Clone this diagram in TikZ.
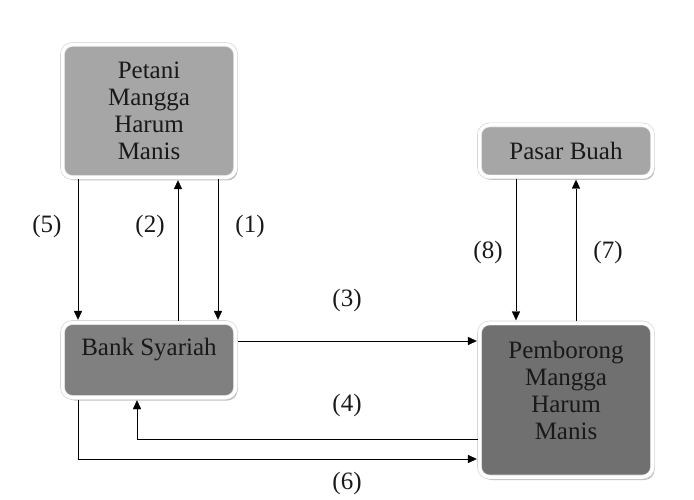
\documentclass[tikz,border=0pt]{standalone}
\usepackage{fontspec}
\setmainfont{Liberation Serif}
\usetikzlibrary{arrows.meta, positioning, shadows}

\begin{document}
\begin{tikzpicture}[x=1pt, y=-1pt]
	\tikzset {->, >={Triangle[length=10pt, width=9pt]}, line width=1pt,
		box/.style={rectangle, rounded corners=10pt, draw=black!18, double=white, double distance=3.5pt, line width=0.6pt, outer sep=2pt, minimum width=173pt, inner sep=2pt, align=center, font=\fontsize{25}{27}\selectfont, text=black!90, drop shadow={shadow xshift=2pt, shadow yshift=-3pt, opacity=0.5}},
		num/.style={font=\fontsize{25}{27}\selectfont, text=black!90} }

	\useasboundingbox (0,0) rectangle (694,500);

	\node[box, fill=black!35, minimum height=133pt] (petani) at (149,111) {Petani\\Mangga\\Harum\\Manis};
	\node[box, fill=black!50, minimum height=75pt] (bank) at (149,360) {Bank Syariah\\\mbox{}};
	\node[box, fill=black!35, minimum height=52pt] (pasar) at (566,151) {Pasar Buah};
	\node[box, fill=black!56, minimum height=154pt] (pemborong) at (566,400) {Pemborong\\Mangga\\Harum\\Manis\\[-8pt]\mbox{}};

	\draw (petani.south -| 78,0) -- (bank.north -| 78,0);
	\draw (bank.north -| 178,0) -- (petani.south -| 178,0);
	\draw (petani.south -| 218,0) -- (bank.north -| 218,0);
	\draw (bank.east |- 0,341) -- (pemborong.west |- 0,341);
	\draw (pemborong.west |- 0,439) -| (bank.south -| 137,0);
	\draw (bank.south -| 78,0) |- (pemborong.west |- 0,459);
	\draw (pasar.south -| 516,0) -- (pemborong.north -| 516,0);
	\draw (pemborong.north -| 576,0) -- (pasar.south -| 576,0);

	\node[num] (n5) at (47,226) {(5)};
	\node[num] (n2) at (150,226) {(2)};
	\node[num] (n1) at (250,226) {(1)};
	\node[num] (n3) at (347,300) {(3)};
	\node[num] (n4) at (347,405) {(4)};
	\node[num] (n6) at (347,483) {(6)};
	\node[num] (n8) at (488,252) {(8)};
	\node[num] (n7) at (608,252) {(7)};
\end{tikzpicture}
\end{document}
